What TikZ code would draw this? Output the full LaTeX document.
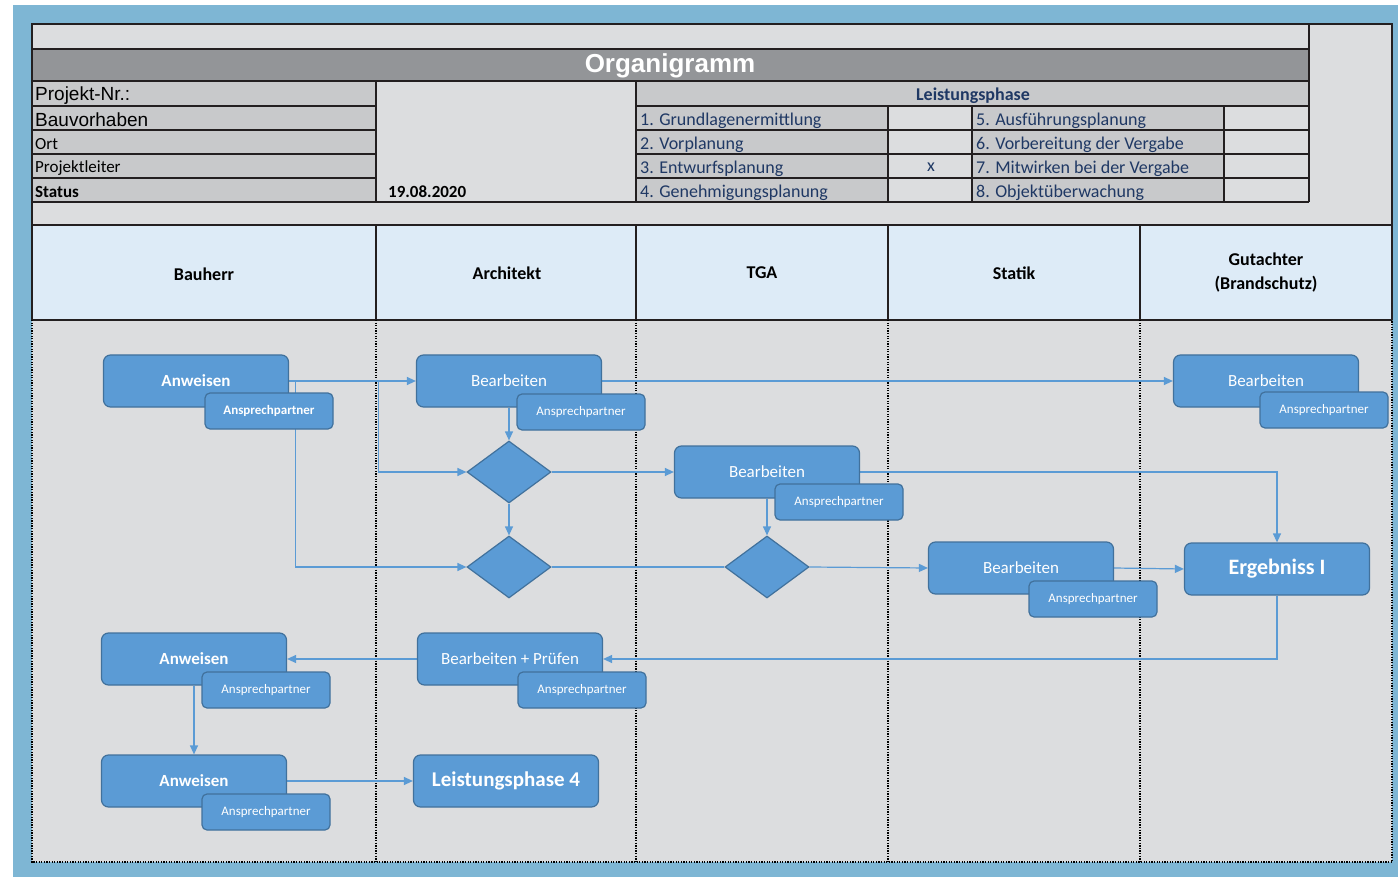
\documentclass[tikz,border=0pt]{standalone}
\usepackage{fontspec}
\setmainfont{Carlito}
\newfontfamily\arialfont{Liberation Sans}
\usetikzlibrary{arrows.meta,shapes.geometric}

\definecolor{frameblue}{HTML}{7EB6D4}
\definecolor{panelgray}{HTML}{DCDDDF}
\definecolor{cellgray}{HTML}{C8C9CB}
\definecolor{titlegray}{HTML}{939598}
\definecolor{lanehead}{HTML}{DDEBF7}
\definecolor{boxblue}{HTML}{5B9BD5}
\definecolor{boxedge}{HTML}{41719C}
\definecolor{phaseblue}{HTML}{1F3864}
\definecolor{gridline}{HTML}{231F20}

\newcommand{\pxsize}[1]{\fontsize{#1}{#1}\selectfont}

\pgfdeclarelayer{back}
\pgfdeclarelayer{lines}
\pgfsetlayers{back,lines,main}

\begin{document}
\begin{tikzpicture}[x=1pt, y=-1pt,
  grid/.style={draw=gridline, line width=1.5pt},
  laneline/.style={draw=black, line width=2pt, dash pattern=on 1.3pt off 1.3pt},
  cell/.style={anchor=west, inner sep=0pt, font=\pxsize{18}},
  phase/.style={cell, text=phaseblue},
  lanetitle/.style={inner sep=0pt, font=\pxsize{18}\bfseries, align=center},
  task/.style={draw=boxedge, fill=boxblue, line width=1.2pt, rounded corners=7pt,
    minimum width=185pt, minimum height=52pt, text=white, font=\pxsize{17}},
  contact/.style={draw=boxedge, fill=boxblue, line width=1.2pt, rounded corners=5pt,
    minimum width=128pt, minimum height=36pt, text=white, font=\pxsize{13}},
  gate/.style={diamond, draw=boxedge, fill=boxblue, line width=1.2pt,
    minimum width=84pt, minimum height=62pt, inner sep=0pt},
  link/.style={draw=boxblue, line width=1.2pt, -{Triangle[length=9pt,width=8pt]}},
]

\begin{pgfonlayer}{back}
\fill[white] (0,0) rectangle (1398,877);
\fill[frameblue] (12.7,5) rectangle (1398,877);
\fill[panelgray] (32,24) rectangle (1392,862);
\fill[titlegray] (32,49) rectangle (1309,81);
\fill[cellgray] (32,81) rectangle (376,202);
\fill[cellgray] (636,81) rectangle (1309,106);
\fill[cellgray] (636,106) rectangle (888,202);
\fill[cellgray] (972,106) rectangle (1224,202);
\fill[lanehead] (32,225) rectangle (1392,320);

\draw[grid] (32,320) -- (32,24) -- (1392,24) -- (1392,320);
\draw[grid] (32,49) -- (1309,49);
\draw[grid] (32,81) -- (1309,81);
\draw[grid] (1309,24) -- (1309,202);
\draw[grid] (32,106) -- (376,106) (636,106) -- (1309,106);
\draw[grid] (32,130) -- (376,130) (636,130) -- (1309,130);
\draw[grid] (32,154) -- (376,154) (636,154) -- (1309,154);
\draw[grid] (32,178) -- (376,178) (636,178) -- (1309,178);
\draw[grid] (32,202) -- (1309,202);
\draw[grid] (376,81) -- (376,202) (636,81) -- (636,202);
\draw[grid] (888,106) -- (888,202) (972,106) -- (972,202) (1224,106) -- (1224,202);
\draw[grid] (32,225) -- (1392,225);
\draw[grid] (32,320) -- (1392,320);
\draw[grid] (376,225) -- (376,320) (636,225) -- (636,320)
  (888,225) -- (888,320) (1140,225) -- (1140,320);

\draw[laneline] (32,320) -- (32,862) -- (1392,862) -- (1392,320);
\draw[laneline] (376,320) -- (376,862) (636,320) -- (636,862)
  (888,320) -- (888,862) (1140,320) -- (1140,862);
\end{pgfonlayer}

\node (title) [inner sep=0pt, text=white, font=\arialfont\pxsize{26}\bfseries] at (670,66) {Organigramm};
\node (projnr) [cell, font=\arialfont\pxsize{19}] at (35,96) {Projekt-Nr.:};
\node (bauvh) [cell, font=\arialfont\pxsize{19}] at (35,120) {Bauvorhaben};
\node (ort) [cell, font=\pxsize{17}] at (35,144) {Ort};
\node (leiter) [cell, font=\pxsize{17}] at (35,168) {Projektleiter};
\node (status) [cell, font=\pxsize{17}\bfseries] at (35,192) {Status};
\node (datum) [cell, font=\pxsize{17}\bfseries] at (388,192) {19.08.2020};

\node (lph) [inner sep=0pt, text=phaseblue, font=\pxsize{18}\bfseries] at (973,96) {Leistungsphase};
\node (lp1) [phase] at (640,121) {1. Grundlagenermittlung};
\node (lp2) [phase] at (640,145) {2. Vorplanung};
\node (lp3) [phase] at (640,169) {3. Entwurfsplanung};
\node (lp4txt) [phase] at (640,193) {4. Genehmigungsplanung};
\node (lp5) [phase] at (976,121) {5. Ausführungsplanung};
\node (lp6) [phase] at (976,145) {6. Vorbereitung der Vergabe};
\node (lp7) [phase] at (976,169) {7. Mitwirken bei der Vergabe};
\node (lp8) [phase] at (976,193) {8. Objektüberwachung};
\node (mark) [inner sep=0pt, text=phaseblue, font=\pxsize{18}] at (931,167) {x};

\node (bauherr) [lanetitle] at (204,274) {Bauherr};
\node (architekt) [lanetitle] at (507,273) {Architekt};
\node (tga) [lanetitle] at (762,273) {TGA};
\node (statik) [lanetitle] at (1014,273) {Statik};
\node (gutachter) [lanetitle, font=\fontsize{18}{24}\selectfont\bfseries] at (1266,273) {Gutachter\\(Brandschutz)};

\node (anw1) [task, font=\pxsize{17}\bfseries] at (196,381) {Anweisen};
\node (anw1p) [contact, font=\pxsize{13}\bfseries] at ([shift={(73,30)}]anw1) {Ansprechpartner};
\node (bea1) [task] at (509,381) {Bearbeiten};
\node (bea1p) [contact] at ([shift={(72,31)}]bea1) {Ansprechpartner};
\node (gut) [task] at (1266,381) {Bearbeiten};
\node (gutp) [contact] at ([shift={(58,29)}]gut) {Ansprechpartner};
\node (dia1) [gate] at (509,472) {};
\node (tgab) [task] at (767,472) {Bearbeiten};
\node (tgabp) [contact] at ([shift={(72,30)}]tgab) {Ansprechpartner};
\node (dia2) [gate] at (509,567) {};
\node (dia3) [gate] at (767,567) {};
\node (stat) [task] at (1021,568) {Bearbeiten};
\node (statp) [contact] at ([shift={(72,31)}]stat) {Ansprechpartner};
\node (erg) [task, font=\pxsize{22}\bfseries] at (1277,569) {Ergebniss I};
\node (anw2) [task, font=\pxsize{17}\bfseries] at (194,659) {Anweisen};
\node (anw2p) [contact] at ([shift={(72,31)}]anw2) {Ansprechpartner};
\node (pruef) [task] at (510,659) {Bearbeiten + Prüfen};
\node (pruefp) [contact] at ([shift={(72,31)}]pruef) {Ansprechpartner};
\node (anw3) [task, font=\pxsize{17}\bfseries] at (194,781) {Anweisen};
\node (anw3p) [contact] at ([shift={(72,31)}]anw3) {Ansprechpartner};
\node (lp4) [task, font=\pxsize{21}\bfseries] at (506,781) {Leistungsphase 4};

\begin{pgfonlayer}{lines}
\draw[link] (anw1.east) -- (bea1.west);
\draw[link] (anw1.east) -- ++(89,0) |- (dia1.west);
\draw[link] (anw1.east) -- ++(6.5,0) |- (dia2.west);
\draw[link] (bea1.south) -- (dia1.north);
\draw[link] (dia1.south) -- (dia2.north);
\draw[link] (bea1.east) -- (gut.west);
\draw[link] (dia1.east) -- (tgab.west);
\draw[link] (tgab.east) -| (erg.north);
\draw[link] (tgab.south) -- (dia3.north);
\draw[link, -] (dia2.east) -- (dia3.west);
\draw[link] (dia3.east) -- (stat.west);
\draw[link] (stat.east) -- (erg.west);
\draw[link] (erg.south) |- (pruef.east);
\draw[link] (pruef.west) -- (anw2.east);
\draw[link] (anw2.south) -- (anw3.north);
\draw[link] (anw3.east) -- (lp4.west);
\end{pgfonlayer}
\end{tikzpicture}
\end{document}
